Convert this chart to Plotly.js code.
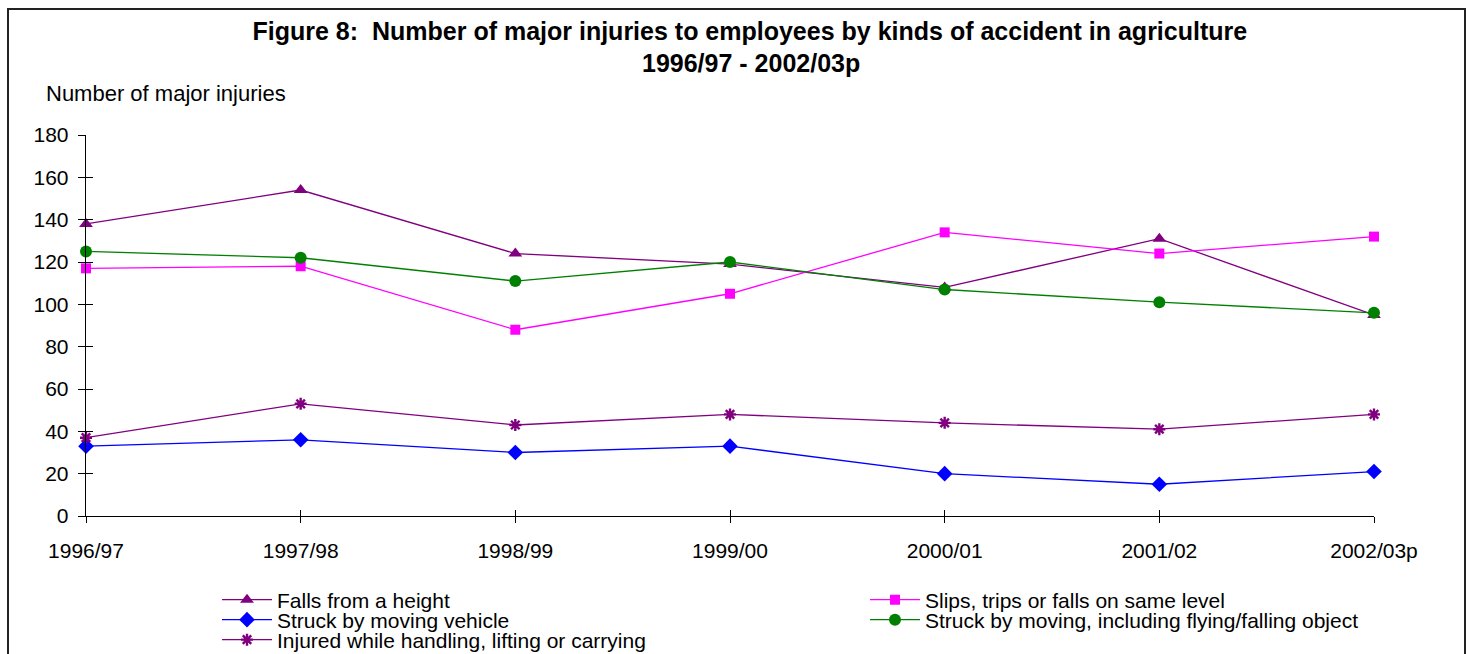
<!DOCTYPE html>
<html>
<head>
<meta charset="utf-8">
<script src="https://cdn.plot.ly/plotly-3.0.1.min.js"></script>
<style>
html,body{margin:0;padding:0;background:#fff;}
#chart{width:1466px;height:654px;}
</style>
</head>
<body>
<div id="chart"></div>
<script>
var years = ["1996/97","1997/98","1998/99","1999/00","2000/01","2001/02","2002/03p"];
var fallsFromHeight = [138,154,124,119,108,131,95];
var slipsTrips = [117,118,88,105,134,124,132];
var struckByVehicle = [33,36,30,33,20,15,21];
var struckByObject = [125,122,111,120,107,101,96];
var handlingLifting = [37,53,43,48,44,41,48];
var yTicks = [0,20,40,60,80,100,120,140,160,180];
var seriesNames = [
  'Falls from a height',
  'Slips, trips or falls on same level',
  'Struck by moving vehicle',
  'Struck by moving, including flying/falling object',
  'Injured while handling, lifting or carrying'
];

var xIdx = years.map(function(_, i){ return i; });
var FONT = 'Liberation Sans, Arial, sans-serif';

function tr(name, y, color, symbol, size, legendId, extra){
  var m = {symbol: symbol, size: size, color: color, line: {width: 0, color: color}};
  if (extra) for (var k in extra) m[k] = extra[k];
  return {
    x: xIdx, y: y, name: name, type: 'scatter', mode: 'lines+markers',
    line: {color: color, width: 1.3},
    marker: m, cliponaxis: false, legend: legendId
  };
}

var traces = [
  tr(seriesNames[0], fallsFromHeight, '#800080', 'triangle-up', 12, 'legend'),
  tr(seriesNames[1], slipsTrips, '#FF00FF', 'square', 10, 'legend2'),
  tr(seriesNames[2], struckByVehicle, '#0000FF', 'diamond', 12, 'legend3'),
  tr(seriesNames[3], struckByObject, '#008000', 'circle', 12, 'legend4'),
  tr(seriesNames[4], handlingLifting, '#800080', 'asterisk-open', 10, 'legend5', {line: {width: 2.4, color: '#800080'}})
];
// invisible trace so the crossing (inside) ticks on the overlay axes are drawn
traces.push({x: [0], y: [0], xaxis: 'x2', yaxis: 'y2', mode: 'markers', marker: {opacity: 0}, showlegend: false, hoverinfo: 'skip', type: 'scatter'});

function leg(xpx, ypx){
  return {
    orientation: 'v', xref: 'container', yref: 'container',
    x: xpx / 1466, xanchor: 'left', y: 1 - ypx / 654, yanchor: 'middle',
    font: {family: FONT, size: 21, color: '#000'}, itemwidth: 50,
    bgcolor: 'rgba(0,0,0,0)', borderwidth: 0
  };
}

var layout = {
  width: 1466, height: 654,
  paper_bgcolor: '#fff', plot_bgcolor: '#fff',
  margin: {l: 86, r: 92, t: 135, b: 138, autoexpand: false},
  font: {family: FONT, color: '#000', size: 21},
  showlegend: true,
  title: {
    text: '<b>Figure 8:\u00a0 Number of major injuries to employees by kinds of accident in agriculture</b>',
    font: {family: FONT, size: 25, color: '#000'},
    x: 0.5115, xref: 'container', xanchor: 'center',
    y: 1 - 31 / 654, yref: 'container', yanchor: 'middle',
    automargin: false
  },
  xaxis: {
    range: [0, 6], tickmode: 'array', tickvals: xIdx, ticktext: years, tickangle: 0,
    showgrid: false, zeroline: false, showline: true, linecolor: '#000', linewidth: 1.3,
    ticks: 'outside', ticklen: 6, tickcolor: '#000', tickwidth: 1, ticklabelstandoff: 9,
    tickfont: {family: FONT, size: 21, color: '#000'}, fixedrange: true, automargin: false
  },
  xaxis2: {
    range: [0, 6], overlaying: 'x', tickmode: 'array', tickvals: xIdx,
    showticklabels: false, showgrid: false, zeroline: false, showline: false,
    ticks: 'inside', ticklen: 6, tickcolor: '#000', tickwidth: 1
  },
  yaxis: {
    range: [0, 180], tickmode: 'array', tickvals: yTicks,
    showgrid: false, zeroline: false, showline: true, linecolor: '#000', linewidth: 1.3,
    ticks: 'outside', ticklen: 7, tickcolor: '#000', tickwidth: 1, ticklabelstandoff: 5,
    tickfont: {family: FONT, size: 21, color: '#000'}, fixedrange: true, automargin: false
  },
  yaxis2: {
    range: [0, 180], overlaying: 'y', tickmode: 'array', tickvals: yTicks,
    showticklabels: false, showgrid: false, zeroline: false, showline: false,
    ticks: 'inside', ticklen: 7, tickcolor: '#000', tickwidth: 1
  },
  legend: leg(217, 600),
  legend2: leg(865, 600),
  legend3: leg(217, 620),
  legend4: leg(865, 620),
  legend5: leg(217, 640),
  annotations: [
    {
      text: '<b>1996/97 - 2002/03p</b>', xref: 'paper', yref: 'paper',
      x: (751 - 86) / 1288, y: (516 - 63) / 381, xanchor: 'center', yanchor: 'middle',
      showarrow: false, font: {family: FONT, size: 25, color: '#000'}
    },
    {
      text: 'Number of major injuries', xref: 'paper', yref: 'paper',
      x: (44 - 86) / 1288, y: (516 - 93) / 381, xanchor: 'left', yanchor: 'middle', showarrow: false,
      font: {family: FONT, size: 22, color: '#000'}
    }
  ],
  shapes: [{
    type: 'rect', xref: 'paper', yref: 'paper',
    x0: (8 - 86) / 1288, x1: (1465 - 86) / 1288, y0: (516 - 700) / 381, y1: (516 - 9) / 381,
    line: {color: '#222', width: 2}, layer: 'below'
  }]
};

Plotly.newPlot('chart', traces, layout, {displayModeBar: false, staticPlot: true});
</script>
</body>
</html>
